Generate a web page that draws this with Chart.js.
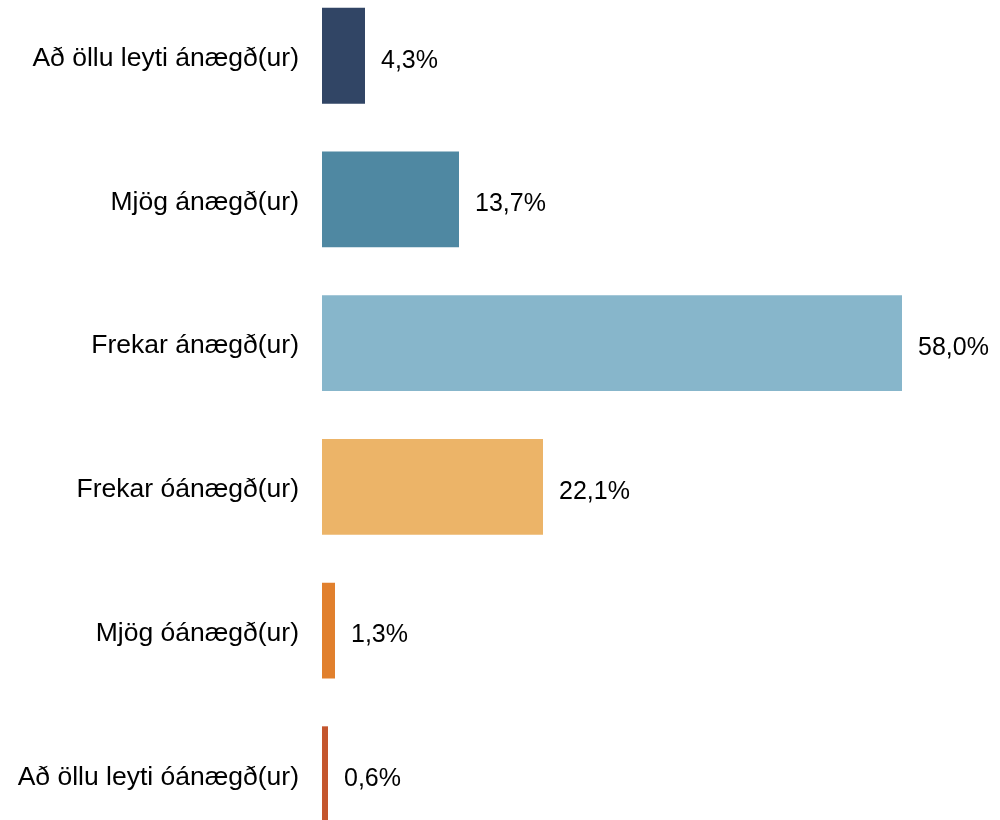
<!DOCTYPE html>
<html>
<head>
<meta charset="utf-8">
<script src="https://cdn.jsdelivr.net/npm/chart.js@4/dist/chart.umd.min.js"></script>
<style>
  html, body { margin: 0; padding: 0; background: #fff; overflow: hidden; }
  /* the category axis adds ~38px padding above and below; shift to compensate */
  #wrap { position: absolute; left: 0; top: -55px; width: 1000px; height: 940px; }
</style>
</head>
<body>
<div id="wrap"><canvas id="chart"></canvas></div>
<script>
// Survey answers, share of respondents (%)
const categories = [
    'Að öllu leyti ánægð(ur)',
    'Mjög ánægð(ur)',
    'Frekar ánægð(ur)',
    'Frekar óánægð(ur)',
    'Mjög óánægð(ur)',
    'Að öllu leyti óánægð(ur)'
];
const values = [4.3, 13.7, 58.0, 22.1, 1.3, 0.6];
const barColors = ['#314565', '#4f88a2', '#87b6cb', '#ecb468', '#e1802d', '#c4562e'];

const fontFamily = '"Liberation Sans", Arial, sans-serif';

// draws the value text to the right of each bar
const valueLabels = {
    id: 'valueLabels',
    afterDatasetsDraw(chart) {
        const ctx = chart.ctx;
        const meta = chart.getDatasetMeta(0);
        ctx.save();
        ctx.font = '25px ' + fontFamily;
        ctx.fillStyle = '#000';
        ctx.textAlign = 'left';
        ctx.textBaseline = 'middle';
        meta.data.forEach((bar, i) => {
            const txt = values[i].toFixed(1).replace('.', ',') + '%';
            ctx.fillText(txt, bar.x + 16, bar.y + 5);
        });
        ctx.restore();
    }
};

new Chart(document.getElementById('chart'), {
    type: 'bar',
    data: {
        labels: categories,
        datasets: [{
            data: values,
            backgroundColor: barColors,
            borderWidth: 0,
            barPercentage: 0.667,
            categoryPercentage: 1
        }]
    },
    options: {
        indexAxis: 'y',
        responsive: true,
        maintainAspectRatio: false,
        animation: false,
        layout: { padding: 0 },
        plugins: {
            legend: { display: false },
            tooltip: { enabled: false }
        },
        scales: {
            x: {
                display: false,
                min: 0,
                max: 67.8
            },
            y: {
                grid: { display: false, drawTicks: false },
                border: { display: false },
                ticks: {
                    color: '#000',
                    padding: 23,
                    labelOffset: 3,
                    font: { family: fontFamily, size: 26.5 }
                },
                afterFit(scale) {
                    scale.width = 322;
                }
            }
        }
    },
    plugins: [valueLabels]
});
</script>
</body>
</html>
